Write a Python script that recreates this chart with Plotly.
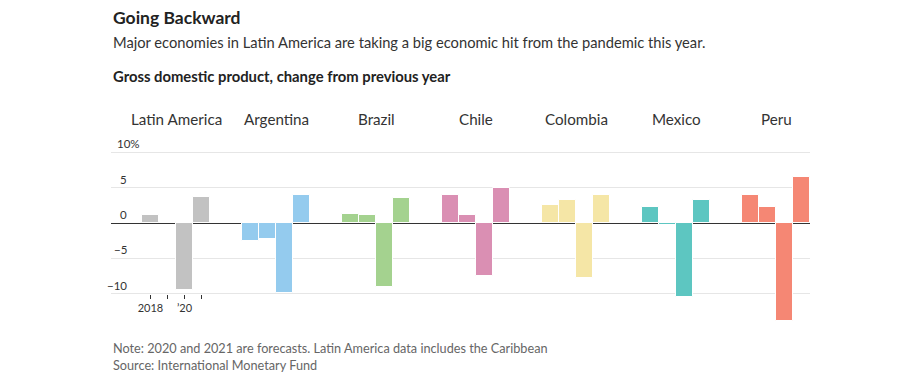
import plotly.graph_objects as go

countries = ["Latin America", "Argentina", "Brazil", "Chile", "Colombia", "Mexico", "Peru"]
years = ["2018", "2019", "2020", "2021"]
gdp = {
    "Latin America": [1.1, 0.1, -9.4, 3.7],
    "Argentina": [-2.5, -2.2, -9.9, 3.9],
    "Brazil": [1.3, 1.1, -9.1, 3.6],
    "Chile": [3.9, 1.1, -7.5, 5.0],
    "Colombia": [2.5, 3.3, -7.8, 4.0],
    "Mexico": [2.2, -0.3, -10.5, 3.3],
    "Peru": [4.0, 2.2, -13.9, 6.5],
}
colors = ["#c2c2c2", "#94cbee", "#a4d28f", "#da8fb3", "#f5e6a6", "#5dc6c1", "#f58774"]
year_ticks = ["2018", "", "\u201920", ""]
y_ticks = [10, 5, 0, -5, -10]
y_tick_text = ["10%", "5", "0", "\u22125", "\u221210"]

BW = 0.17
fig = go.Figure()
for i, c in enumerate(countries):
    xs = [i + (j - 1.5) * BW for j in range(len(years))]
    fig.add_trace(go.Bar(
        x=xs, y=gdp[c], width=BW, name=c,
        marker=dict(color=colors[i], line=dict(color="white", width=1)),
        hovertemplate=c + " %{customdata}: %{y}%<extra></extra>",
        customdata=years, showlegend=False,
    ))

W, H = 920, 381
ml, mr, mt, mb = 111, 110, 145, 55
ymin, ymax = -14.54, 11.02
xmin, xmax = -0.65, 6.34

fig.update_layout(
    width=W, height=H,
    margin=dict(l=ml, r=mr, t=mt, b=mb),
    paper_bgcolor="white", plot_bgcolor="white",
    font=dict(family="Lato, Noto Sans, sans-serif", color="#333333"),
    bargap=0,
    xaxis=dict(range=[xmin, xmax], showgrid=False, zeroline=False,
               showticklabels=False, ticks="", fixedrange=True),
    xaxis2=dict(overlaying="x", matches="x", anchor="free",
                position=(-10 - ymin) / (ymax - ymin), side="bottom",
                tickmode="array",
                tickvals=[0 + (j - 1.5) * BW for j in range(len(years))],
                ticktext=year_ticks, ticks="outside", ticklen=4,
                tickcolor="#333333", tickwidth=1, showgrid=False,
                zeroline=False, showline=False,
                tickfont=dict(size=11, color="#333333")),
    yaxis=dict(range=[ymin, ymax], tickvals=y_ticks, showticklabels=False,
               gridcolor="#e6e6e6", gridwidth=1, zeroline=True,
               zerolinecolor="#333333", zerolinewidth=1, fixedrange=True),
    showlegend=False,
)

fig.add_trace(go.Scatter(x=[0], y=[0], xaxis="x2", mode="markers",
                         marker=dict(opacity=0), hoverinfo="skip", showlegend=False))

anns = []
for v, t in zip(y_ticks, y_tick_text):
    if t.endswith("%"):
        anns.append(dict(xref="paper", yref="y", x=0, y=v, xshift=4, yshift=0,
                         text=t, showarrow=False, xanchor="left", yanchor="bottom",
                         font=dict(size=11.5, color="#333333")))
    else:
        anns.append(dict(xref="paper", yref="y", x=0, y=v, xshift=18, yshift=0,
                         text=t, showarrow=False, xanchor="right", yanchor="bottom",
                         font=dict(size=11.5, color="#333333")))
for i, c in enumerate(countries):
    anns.append(dict(xref="x", yref="paper", x=i, y=1, yshift=26, text=c,
                     showarrow=False, xanchor="center", yanchor="middle",
                     font=dict(size=15.2, color="#333333")))

anns += [
    dict(xref="paper", yref="paper", x=0, y=1, xshift=0, yshift=128,
         text="<b>Going Backward</b>", showarrow=False, xanchor="left",
         yanchor="middle", font=dict(size=17.5, color="#222222")),
    dict(xref="paper", yref="paper", x=0, y=1, yshift=103,
         text="Major economies in Latin America are taking a big economic hit from the pandemic this year.",
         showarrow=False, xanchor="left", yanchor="middle",
         font=dict(size=14.7, color="#333333")),
    dict(xref="paper", yref="paper", x=0, y=1, yshift=69,
         text="<b>Gross domestic product, change from previous year</b>",
         showarrow=False, xanchor="left", yanchor="middle",
         font=dict(size=14.8, color="#222222")),
    dict(xref="paper", yref="paper", x=0, y=0, yshift=-22,
         text="Note: 2020 and 2021 are forecasts. Latin America data includes the Caribbean",
         showarrow=False, xanchor="left", yanchor="middle",
         font=dict(size=12.7, color="#666666")),
    dict(xref="paper", yref="paper", x=0, y=0, yshift=-39,
         text="Source: International Monetary Fund",
         showarrow=False, xanchor="left", yanchor="middle",
         font=dict(size=12.7, color="#666666")),
]
fig.update_layout(annotations=anns)

fig.write_html("out.html", config={"displayModeBar": False},
               post_script="document.body.style.margin='0';document.body.style.overflow='hidden';")
